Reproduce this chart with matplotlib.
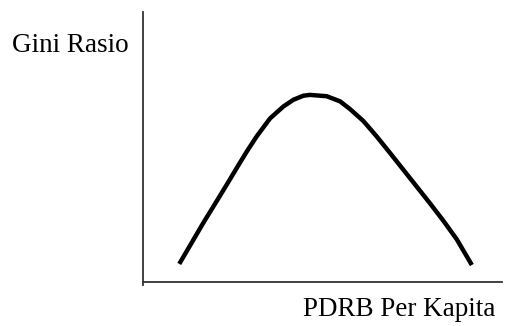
import matplotlib
matplotlib.use("Agg")
import matplotlib.pyplot as plt

# curve (arbitrary units, axes 0..100)
pdrb = [10.1, 13.1, 16.8, 20.5, 23.3, 26.1, 28.9, 31.7, 35.4, 39.1, 41.9, 44.7,
        46.5, 51.2, 54.9, 57.7, 61.4, 65.1, 68.8, 72.5, 76.2, 79.9, 83.6, 87.4, 91.6]
gini = [6.7, 13.5, 21.9, 29.9, 36.0, 42.2, 48.3, 54.0, 60.6, 65.0, 67.5, 69.0,
        69.3, 68.8, 66.9, 64.0, 59.6, 53.9, 47.8, 41.6, 35.4, 29.2, 22.8, 15.8, 6.3]

plt.rcParams['font.family'] = ['Liberation Serif', 'DejaVu Serif']

fig = plt.figure(figsize=(5.12, 3.26), dpi=100)
ax = fig.add_axes([143 / 512, 41 / 326, 359 / 512, 273 / 326])

ax.plot(pdrb, gini, color='black', lw=3.2, solid_joinstyle='round', solid_capstyle='butt')

ax.set_xlim(0, 100)
ax.set_ylim(-1.11, 100)
ax.spines['top'].set_visible(False)
ax.spines['right'].set_visible(False)
ax.spines['bottom'].set_position(('data', 0))
for s in ('left', 'bottom'):
    ax.spines[s].set_color('#333333')
    ax.spines[s].set_linewidth(1.3)
ax.set_xticks([])
ax.set_yticks([])

fig.text(12 / 512, 1 - 45 / 326, 'Gini Rasio', fontsize=19.5, va='center', ha='left')
fig.text(495 / 512, 1 - 310 / 326, 'PDRB Per Kapita', fontsize=19.5, va='center', ha='right')

fig.savefig('out.png', dpi=100)
